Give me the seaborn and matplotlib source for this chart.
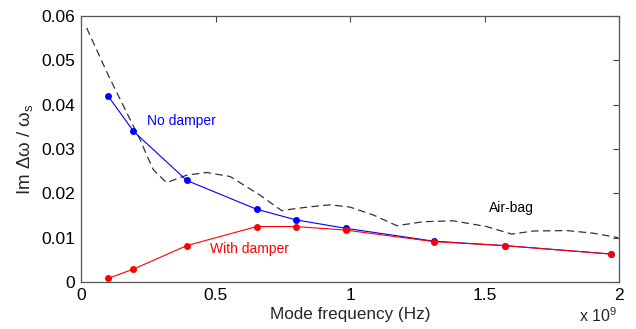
import matplotlib
matplotlib.use("Agg")
import matplotlib.pyplot as plt
import seaborn as sns
import pandas as pd
import numpy as np

# Data (frequency in units of 1e9 Hz)
freq_nodamp = [0.10, 0.195, 0.393, 0.653, 0.80, 0.985, 1.312, 1.575, 1.971]
im_nodamp = [0.0420, 0.0340, 0.0229, 0.0164, 0.0140, 0.0121, 0.0092, 0.0082, 0.0063]

freq_damp = [0.10, 0.195, 0.393, 0.653, 0.80, 0.985, 1.312, 1.575, 1.971]
im_damp = [0.0008, 0.0029, 0.0082, 0.0125, 0.0125, 0.0117, 0.0091, 0.0082, 0.0063]

freq_airbag = [0.021, 0.10, 0.20, 0.219, 0.245, 0.269, 0.318, 0.393, 0.467, 0.554, 0.665, 0.746,
               0.802, 0.888, 0.926, 1.0, 1.087, 1.174, 1.273, 1.384, 1.508, 1.601,
               1.682, 1.806, 1.905, 1.997]
im_airbag = [0.0573, 0.0468, 0.0345, 0.0322, 0.0285, 0.0253, 0.0224, 0.0241, 0.0247, 0.0238, 0.0196, 0.0161,
             0.0166, 0.0172, 0.0174, 0.0169, 0.0151, 0.0127, 0.0136, 0.0138, 0.0125, 0.0108,
             0.0115, 0.0116, 0.0110, 0.0100]

x_ticks = [0, 0.5, 1, 1.5, 2]
x_tick_labels = ["0", "0.5", "1", "1.5", "2"]
y_ticks = [0, 0.01, 0.02, 0.03, 0.04, 0.05, 0.06]
y_tick_labels = ["0", "0.01", "0.02", "0.03", "0.04", "0.05", "0.06"]

sns.set_style("white")
plt.rcParams['font.family'] = ['Liberation Sans', 'DejaVu Sans']
plt.rcParams['mathtext.fontset'] = 'custom'
plt.rcParams['mathtext.rm'] = 'Liberation Sans'
plt.rcParams['mathtext.it'] = 'Liberation Sans'

fig = plt.figure(figsize=(6.36, 3.29), dpi=100)
ax = fig.add_axes([0.1274, 0.1429, 0.8459, 0.8085])

df_air = pd.DataFrame({"f": freq_airbag, "v": im_airbag})
df_nd = pd.DataFrame({"f": freq_nodamp, "v": im_nodamp})
df_d = pd.DataFrame({"f": freq_damp, "v": im_damp})

sns.lineplot(data=df_air, x="f", y="v", ax=ax, color="#333333", lw=0.9,
             dashes=False, sort=False, estimator=None)
ax.lines[-1].set_dashes([6, 3.5])
sns.lineplot(data=df_nd, x="f", y="v", ax=ax, color="#0000ff", lw=0.8,
             marker="o", markersize=5, markeredgewidth=0, sort=False, estimator=None)
sns.lineplot(data=df_d, x="f", y="v", ax=ax, color="#ff0000", lw=0.8,
             marker="o", markersize=5, markeredgewidth=0, sort=False, estimator=None)

ax.set_xlim(0, 2)
ax.set_ylim(0, 0.06)
ax.set_xticks(x_ticks)
ax.set_xticklabels(x_tick_labels)
ax.set_yticks(y_ticks)
ax.set_yticklabels(y_tick_labels)
ax.tick_params(direction="in", length=4, width=0.8, color="#444444",
               top=True, right=True, labelsize=12.5, pad=4, labelcolor="black")
for s in ax.spines.values():
    s.set_color("#555555")
    s.set_linewidth(0.9)

ax.set_xlabel("Mode frequency (Hz)", fontsize=12.3, labelpad=3)
ax.set_ylabel(r"Im $\Delta\omega$ / $\omega_{\rm s}$", fontsize=13.5, labelpad=5)

ax.text(0.245, 0.0364, "No damper", color="#0000ff", fontsize=10, va="center", ha="left")
ax.text(0.478, 0.0074, "With damper", color="#ff0000", fontsize=10, va="center", ha="left")
ax.text(1.515, 0.0168, "Air-bag", color="black", fontsize=10, va="center", ha="left")
fig.text(0.91, 0.012, r"x 10$^9$", fontsize=11.5, ha="left", va="bottom")

fig.savefig("out.png", dpi=100)
